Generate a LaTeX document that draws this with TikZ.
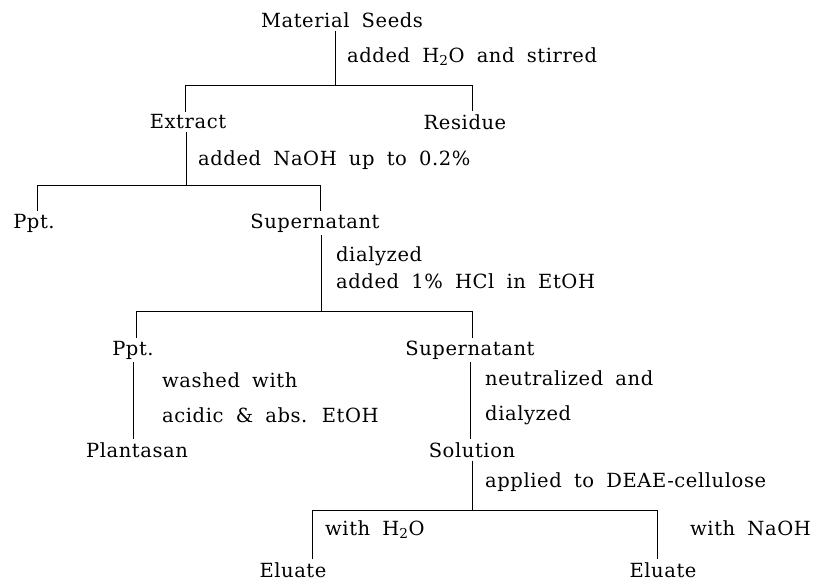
\documentclass[tikz,border=0pt]{standalone}
\usepackage{fontspec}
\setmainfont{DejaVu Serif}[WordSpace=1.8,LetterSpace=3]
\usetikzlibrary{positioning,calc}
\tikzset{
  item/.style={inner sep=3pt},
  lbl/.style={anchor=west, inner sep=0pt, align=left},
  branch/.style={line width=0.9pt},
}

\begin{document}
\begin{tikzpicture}[x=1pt,y=-1pt,font=\fontsize{19.5pt}{27pt}\selectfont]
	\useasboundingbox (0,0) rectangle (822,588);

	% Material seeds
	\node[item] (seeds) at (342,20) {Material Seeds};
	\node[lbl] (stir) at (347,57) {added H\textsubscript{2}O and stirred};
	\coordinate (p1) at (335,85);
	\coordinate (a1) at (185,85);
	\coordinate (b1) at (472,85);
	\node[item] (extract) at (188,122) {Extract};
	\node[item] (residue) at (465,122) {Residue};
	\draw[branch] (seeds.south -| p1) -- (p1);
	\draw[branch] (extract.north -| a1) -- (a1) -- (b1) -- (residue.north -| b1);

	% Extract
	\node[lbl] (naoh) at (198,160) {added NaOH up to 0.2\%};
	\coordinate (p2) at (186,185);
	\coordinate (a2) at (37,185);
	\coordinate (b2) at (320,185);
	\node[item] (ppt1) at (34,223) {Ppt.};
	\node[item] (super1) at (315,223) {Supernatant};
	\draw[branch] (extract.south -| p2) -- (p2);
	\draw[branch] (ppt1.north -| a2) -- (a2) -- (b2) -- (super1.north -| b2);

	% Supernatant 1
	\node[lbl] (hcl) at (336,268) {dialyzed\\added 1\% HCl in EtOH};
	\coordinate (p3) at (321,311);
	\coordinate (a3) at (136,311);
	\coordinate (b3) at (472,311);
	\node[item] (ppt2) at (133,350) {Ppt.};
	\node[item] (super2) at (470,350) {Supernatant};
	\draw[branch] (super1.south -| p3) -- (p3);
	\draw[branch] (ppt2.north -| a3) -- (a3) -- (b3) -- (super2.north -| b3);

	% Ppt. 2 and Supernatant 2
	\node[lbl] (wash) at (162,398) {washed with\\[8pt]acidic \& abs. EtOH};
	\node[lbl] (neut) at (485,398) {neutralized and\\[8pt]dialyzed};
	\node[item] (plant) at (137,450) {Plantasan};
	\node[item] (sol) at (472,450) {Solution};
	\draw[branch] (ppt2.south) -- (plant.north -| ppt2.south);
	\draw[branch] (super2.south) -- (sol.north -| super2.south);

	% Solution
	\node[lbl] (deae) at (485,482) {applied to DEAE-cellulose};
	\coordinate (p5) at (472,510);
	\coordinate (a5) at (312,510);
	\coordinate (b5) at (657,510);
	\node[lbl] (wwat) at (325,530) {with H\textsubscript{2}O};
	\node[lbl] (wnaoh) at (690,528) {with NaOH};
	\node[item] (elu1) at (293,570) {Eluate};
	\node[item] (elu2) at (663,570) {Eluate};
	\draw[branch] (sol.south -| p5) -- (p5);
	\draw[branch] (elu1.north -| a5) -- (a5) -- (b5) -- (elu2.north -| b5);
\end{tikzpicture}
\end{document}
